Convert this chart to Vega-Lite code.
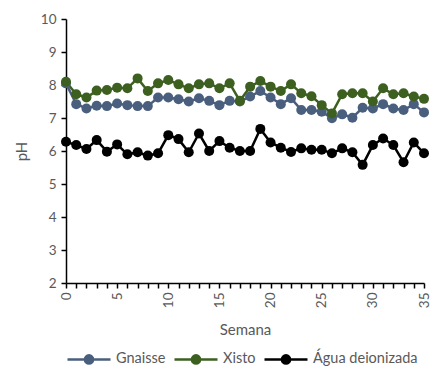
{
  "$schema": "https://vega.github.io/schema/vega-lite/v6.json",
  "autosize": {"type": "none"},
  "padding": {"left": 66, "top": 19, "right": 11, "bottom": 91},
  "width": 358,
  "height": 264,
  "background": "white",
  "config": {
    "view": {"stroke": null},
    "font": "Lato",
    "axis": {"labelFont": "Lato", "titleFont": "Lato", "labelColor": "#595959", "titleColor": "#595959", "labelFontSize": 13.5, "titleFontSize": 15, "titleFontWeight": 400, "domainColor": "#000000", "tickColor": "#000000", "domainWidth": 1.5, "tickWidth": 1.5, "grid": false}
  },
  "data": {"values": [
    {"semana":0,"serie":"Gnaisse","ph":8.05},{"semana":1,"serie":"Gnaisse","ph":7.42},{"semana":2,"serie":"Gnaisse","ph":7.29},{"semana":3,"serie":"Gnaisse","ph":7.37},{"semana":4,"serie":"Gnaisse","ph":7.36},{"semana":5,"serie":"Gnaisse","ph":7.44},{"semana":6,"serie":"Gnaisse","ph":7.39},{"semana":7,"serie":"Gnaisse","ph":7.36},{"semana":8,"serie":"Gnaisse","ph":7.36},{"semana":9,"serie":"Gnaisse","ph":7.62},{"semana":10,"serie":"Gnaisse","ph":7.62},{"semana":11,"serie":"Gnaisse","ph":7.57},{"semana":12,"serie":"Gnaisse","ph":7.5},{"semana":13,"serie":"Gnaisse","ph":7.6},{"semana":14,"serie":"Gnaisse","ph":7.52},{"semana":15,"serie":"Gnaisse","ph":7.39},{"semana":16,"serie":"Gnaisse","ph":7.52},{"semana":17,"serie":"Gnaisse","ph":7.5},{"semana":18,"serie":"Gnaisse","ph":7.65},{"semana":19,"serie":"Gnaisse","ph":7.82},{"semana":20,"serie":"Gnaisse","ph":7.62},{"semana":21,"serie":"Gnaisse","ph":7.42},{"semana":22,"serie":"Gnaisse","ph":7.6},{"semana":23,"serie":"Gnaisse","ph":7.24},{"semana":24,"serie":"Gnaisse","ph":7.24},{"semana":25,"serie":"Gnaisse","ph":7.19},{"semana":26,"serie":"Gnaisse","ph":6.99},{"semana":27,"serie":"Gnaisse","ph":7.11},{"semana":28,"serie":"Gnaisse","ph":7.01},{"semana":29,"serie":"Gnaisse","ph":7.31},{"semana":30,"serie":"Gnaisse","ph":7.29},{"semana":31,"serie":"Gnaisse","ph":7.42},{"semana":32,"serie":"Gnaisse","ph":7.29},{"semana":33,"serie":"Gnaisse","ph":7.24},{"semana":34,"serie":"Gnaisse","ph":7.42},{"semana":35,"serie":"Gnaisse","ph":7.17},
    {"semana":0,"serie":"Xisto","ph":8.1},{"semana":1,"serie":"Xisto","ph":7.72},{"semana":2,"serie":"Xisto","ph":7.62},{"semana":3,"serie":"Xisto","ph":7.83},{"semana":4,"serie":"Xisto","ph":7.85},{"semana":5,"serie":"Xisto","ph":7.92},{"semana":6,"serie":"Xisto","ph":7.9},{"semana":7,"serie":"Xisto","ph":8.2},{"semana":8,"serie":"Xisto","ph":7.82},{"semana":9,"serie":"Xisto","ph":8.05},{"semana":10,"serie":"Xisto","ph":8.15},{"semana":11,"serie":"Xisto","ph":8.02},{"semana":12,"serie":"Xisto","ph":7.9},{"semana":13,"serie":"Xisto","ph":8.02},{"semana":14,"serie":"Xisto","ph":8.05},{"semana":15,"serie":"Xisto","ph":7.9},{"semana":16,"serie":"Xisto","ph":8.05},{"semana":17,"serie":"Xisto","ph":7.52},{"semana":18,"serie":"Xisto","ph":7.95},{"semana":19,"serie":"Xisto","ph":8.12},{"semana":20,"serie":"Xisto","ph":7.95},{"semana":21,"serie":"Xisto","ph":7.82},{"semana":22,"serie":"Xisto","ph":8.02},{"semana":23,"serie":"Xisto","ph":7.75},{"semana":24,"serie":"Xisto","ph":7.66},{"semana":25,"serie":"Xisto","ph":7.39},{"semana":26,"serie":"Xisto","ph":7.14},{"semana":27,"serie":"Xisto","ph":7.72},{"semana":28,"serie":"Xisto","ph":7.75},{"semana":29,"serie":"Xisto","ph":7.75},{"semana":30,"serie":"Xisto","ph":7.5},{"semana":31,"serie":"Xisto","ph":7.9},{"semana":32,"serie":"Xisto","ph":7.72},{"semana":33,"serie":"Xisto","ph":7.75},{"semana":34,"serie":"Xisto","ph":7.65},{"semana":35,"serie":"Xisto","ph":7.58},
    {"semana":0,"serie":"Água deionizada","ph":6.28},{"semana":1,"serie":"Água deionizada","ph":6.18},{"semana":2,"serie":"Água deionizada","ph":6.06},{"semana":3,"serie":"Água deionizada","ph":6.33},{"semana":4,"serie":"Água deionizada","ph":5.98},{"semana":5,"serie":"Água deionizada","ph":6.2},{"semana":6,"serie":"Água deionizada","ph":5.9},{"semana":7,"serie":"Água deionizada","ph":5.96},{"semana":8,"serie":"Água deionizada","ph":5.86},{"semana":9,"serie":"Água deionizada","ph":5.93},{"semana":10,"serie":"Água deionizada","ph":6.48},{"semana":11,"serie":"Água deionizada","ph":6.36},{"semana":12,"serie":"Água deionizada","ph":5.96},{"semana":13,"serie":"Água deionizada","ph":6.53},{"semana":14,"serie":"Água deionizada","ph":6.0},{"semana":15,"serie":"Água deionizada","ph":6.3},{"semana":16,"serie":"Água deionizada","ph":6.1},{"semana":17,"serie":"Água deionizada","ph":6.0},{"semana":18,"serie":"Água deionizada","ph":6.0},{"semana":19,"serie":"Água deionizada","ph":6.67},{"semana":20,"serie":"Água deionizada","ph":6.26},{"semana":21,"serie":"Água deionizada","ph":6.1},{"semana":22,"serie":"Água deionizada","ph":5.97},{"semana":23,"serie":"Água deionizada","ph":6.08},{"semana":24,"serie":"Água deionizada","ph":6.04},{"semana":25,"serie":"Água deionizada","ph":6.04},{"semana":26,"serie":"Água deionizada","ph":5.93},{"semana":27,"serie":"Água deionizada","ph":6.08},{"semana":28,"serie":"Água deionizada","ph":5.96},{"semana":29,"serie":"Água deionizada","ph":5.58},{"semana":30,"serie":"Água deionizada","ph":6.18},{"semana":31,"serie":"Água deionizada","ph":6.38},{"semana":32,"serie":"Água deionizada","ph":6.18},{"semana":33,"serie":"Água deionizada","ph":5.66},{"semana":34,"serie":"Água deionizada","ph":6.26},{"semana":35,"serie":"Água deionizada","ph":5.93}
  ]},
  "encoding": {
    "x": {"field": "semana", "type": "quantitative", "title": "Semana",
      "scale": {"domain": [0, 35], "nice": false, "zero": false},
      "axis": {"values": [0,1,2,3,4,5,6,7,8,9,10,11,12,13,14,15,16,17,18,19,20,21,22,23,24,25,26,27,28,29,30,31,32,33,34,35],
        "labelExpr": "datum.value % 5 === 0 ? datum.label : ''", "labelAngle": -90, "labelAlign": "right", "labelBaseline": "middle",
        "tickSize": 5, "labelPadding": 4, "titlePadding": 15, "titleFontWeight": 400, "labelOverlap": false}},
    "y": {"field": "ph", "type": "quantitative", "title": "pH",
      "scale": {"domain": [2, 10], "nice": false, "zero": false},
      "axis": {"values": [2,3,4,5,6,7,8,9,10], "tickSize": 5, "labelPadding": 5, "titlePadding": 11, "titleFontWeight": 400}},
    "color": {"field": "serie", "type": "nominal", "sort": ["Gnaisse", "Xisto", "Água deionizada"],
      "scale": {"domain": ["Gnaisse", "Xisto", "Água deionizada"], "range": ["#4A5F7E", "#3D6020", "#000000"]},
      "legend": {"title": null, "orient": "bottom", "direction": "horizontal", "offset": -2,
        "symbolType": "M-1,0H1M-0.19,0A0.19,0.19 0 1,1 0.19,0A0.19,0.19 0 1,1 -0.19,0Z",
        "symbolSize": 1850, "symbolStrokeWidth": 2.5, "labelFont": "Lato", "labelFontSize": 14.5, "labelColor": "#595959",
        "columnPadding": 3, "labelOffset": 4,
        "encode": {"symbols": {"update": {"fill": {"scale": "color", "field": "value"}, "stroke": {"scale": "color", "field": "value"}, "opacity": {"value": 1}, "fillOpacity": {"value": 1}}}}}}
  },
  "layer": [
    {"mark": {"type": "line", "strokeWidth": 2.5}},
    {"mark": {"type": "point", "filled": true, "size": 100, "opacity": 1, "shape": "circle"}}
  ]
}
